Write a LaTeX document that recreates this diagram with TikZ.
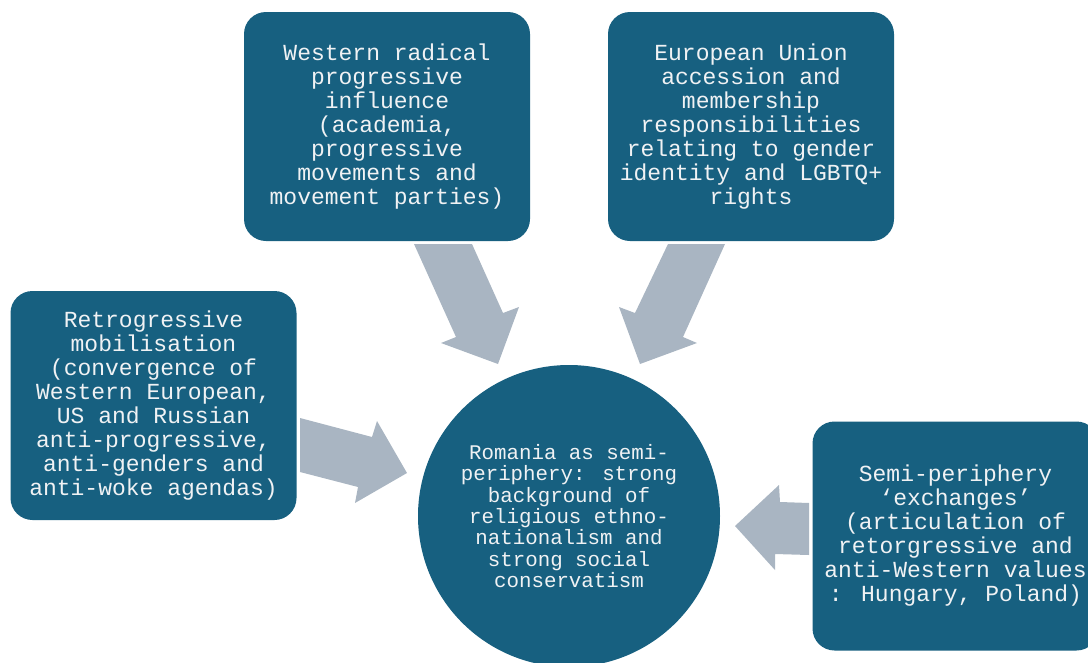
\documentclass[tikz,border=0pt]{standalone}
\usepackage{fontspec}
\setmainfont{Liberation Mono}
\definecolor{boxblue}{RGB}{23,96,128}
\definecolor{arrowgrey}{RGB}{169,181,194}
\definecolor{boxtext}{RGB}{240,242,244}
\begin{document}
\begin{tikzpicture}[x=1pt,y=-1pt,
  box/.style={fill=boxblue, rounded corners=22pt, minimum width=286pt,
    minimum height=229pt, inner sep=0pt, align=center, text=boxtext,
    font=\fontsize{23}{24}\selectfont},
  hub/.style={circle, fill=boxblue, minimum size=302pt, inner sep=0pt,
    align=center, text=boxtext, font=\fontsize{20.8}{21.3}\selectfont},
  blockarrow/.style={fill=arrowgrey, draw=none}]
\useasboundingbox (0,0) rectangle (1088,662);
\clip (0,0) rectangle (1088,662);

% outer influences
\node[box] (west) at (387,126.5) {Western radical\\progressive\\influence\\(academia,\\progressive\\movements and\\movement parties)};
\node[box] (eu) at (751,126.5) {European Union\\accession and\\membership\\responsibilities\\relating to gender\\identity and LGBTQ+\\rights};
\node[box] (retro) at (153.5,405.5) {Retrogressive\\mobilisation\\(convergence of\\Western European,\\US and Russian\\anti-progressive,\\anti-genders and\\anti-woke agendas)};
\node[box] (semi) at (955.5,536) {Semi-periphery\\`exchanges'\\(articulation of\\retorgressive and\\anti-Western values\\: Hungary, Poland)};

% central node
\node[hub] (romania) at (569,516) {Romania as semi-\\periphery: strong\\background of\\religious ethno-\\nationalism and\\strong social\\conservatism};

% block arrows pointing into the centre
\fill[blockarrow] (414,244) -- (472,244) -- (503,313) -- (519,307) -- (498,364) -- (441,343) -- (456,337) -- cycle;
\fill[blockarrow] (668,244) -- (725,244) -- (683,337) -- (697,343) -- (640,364) -- (619,307) -- (635,313) -- cycle;
\fill[blockarrow] (300,418) -- (372,437) -- (377,421) -- (407,473) -- (355,503) -- (358,487) -- (300,472) -- cycle;
\fill[blockarrow] (809,503) -- (780,502) -- (779,485) -- (735,526) -- (775,570) -- (775,554) -- (809,555) -- cycle;
\end{tikzpicture}
\end{document}
